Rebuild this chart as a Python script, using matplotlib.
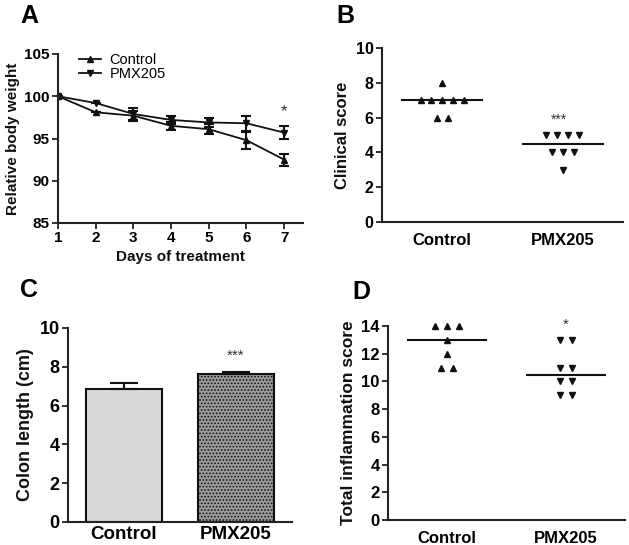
import matplotlib
matplotlib.use("Agg")
import matplotlib.pyplot as plt
from matplotlib.lines import Line2D
import numpy as np

plt.rcParams['font.family'] = ['Liberation Sans', 'DejaVu Sans']
plt.rcParams['hatch.linewidth'] = 0.8

# Panel A
days = [1, 2, 3, 4, 5, 6, 7]
control_weight = [100, 98.1, 97.7, 96.5, 96.1, 94.8, 92.5]
control_err = [0, 0, 0.6, 0.5, 0.6, 1.0, 0.7]
pmx_weight = [100, 99.2, 97.9, 97.2, 96.9, 96.8, 95.7]
pmx_err = [0, 0, 0.7, 0.5, 0.5, 0.9, 0.8]

# Panel B
groups = ['Control', 'PMX205']
clinical_control = [8, 7, 7, 7, 7, 7, 6, 6]
clinical_pmx = [5, 5, 5, 5, 4, 4, 4, 3]
clinical_means = [7.0, 4.5]

# Panel C
colon_length = [6.85, 7.65]
colon_err = [0.3, 0.08]

# Panel D
inflam_control = [14, 14, 14, 13, 12, 11, 11]
inflam_pmx = [13, 13, 11, 11, 10, 10, 9, 9]
inflam_means = [13.0, 10.5]

W, H = 629, 545
fig = plt.figure(figsize=(W / 100, H / 100), dpi=100)

def ax_at(x0, x1, ytop, ybot):
    return fig.add_axes([x0 / W, (H - ybot) / H, (x1 - x0) / W, (ybot - ytop) / H])

def style(ax, ysize=11, xsize=11):
    for s in ['top', 'right']:
        ax.spines[s].set_visible(False)
    for s in ['left', 'bottom']:
        ax.spines[s].set_linewidth(1.5)
        ax.spines[s].set_color('#222222')
    ax.tick_params(width=1.3, length=4, color='#222222', pad=2)
    ax.tick_params(axis='y', labelsize=ysize)
    ax.tick_params(axis='x', labelsize=xsize)
    for lab in ax.get_xticklabels() + ax.get_yticklabels():
        lab.set_fontweight('bold')

INK = '#111111'

# ---- A ----
axA = ax_at(58, 303, 54, 223)
axA.errorbar(days, control_weight, yerr=control_err, color=INK, marker='^', ms=4,
             lw=1.3, capsize=3.5, elinewidth=1.5, capthick=1.5)
axA.errorbar(days, pmx_weight, yerr=pmx_err, color=INK, marker='v', ms=4,
             lw=1.3, capsize=3.5, elinewidth=1.5, capthick=1.5)
axA.set_xlim(1, 7.5)
axA.set_ylim(85, 105)
axA.set_xticks(days)
axA.set_yticks([85, 90, 95, 100, 105])
axA.set_xlabel('Days of treatment', fontsize=11, fontweight='bold', color=INK, labelpad=3)
axA.set_ylabel('Relative body weight', fontsize=11, fontweight='bold', color=INK, labelpad=3)
style(axA)
axA.text(7, 97.3, '*', ha='center', va='bottom', fontsize=12, color='#333333')
handles = [Line2D([], [], color=INK, marker='^', ms=4, lw=1.3),
           Line2D([], [], color=INK, marker='v', ms=4, lw=1.3)]
axA.legend(handles, ['Control', 'PMX205'], loc='upper left', bbox_to_anchor=(0.05, 1.06),
           frameon=False, handlelength=1.5, handletextpad=0.6,
           labelspacing=0.0, borderaxespad=0.2, prop={'size': 10.5})
fig.text(20 / W, 1 - 16 / H, 'A', fontsize=18, fontweight='bold', va='center')

# ---- B ----
def scatter_group(ax, xc, vals, marker, spacing=0.09):
    vals = list(vals)
    uniq = sorted(set(vals), reverse=True)
    for v in uniq:
        n = vals.count(v)
        xs = xc + (np.arange(n) - (n - 1) / 2) * spacing
        ax.plot(xs, [v] * n, linestyle='none', marker=marker, ms=4.5, color=INK,
                clip_on=False)

axB = ax_at(382, 623, 48, 222)
scatter_group(axB, 0, clinical_control, '^')
scatter_group(axB, 1, clinical_pmx, 'v')
for i, m in enumerate(clinical_means):
    axB.plot([i - 0.33, i + 0.33], [m, m], color=INK, lw=1.5)
axB.set_xlim(-0.5, 1.5)
axB.set_ylim(0, 10)
axB.set_xticks([0, 1])
axB.set_xticklabels(groups)
axB.set_yticks([0, 2, 4, 6, 8, 10])
axB.set_ylabel('Clinical score', fontsize=12, fontweight='bold', color=INK)
style(axB, ysize=11.5, xsize=12)
axB.tick_params(axis='x', length=0, pad=8)
axB.text(0.97, 5.45, '***', ha='center', va='bottom', fontsize=10, color='#333333')
fig.text(336 / W, 1 - 16 / H, 'B', fontsize=18, fontweight='bold', va='center')

# ---- C ----
axC = ax_at(68, 292, 328, 522)
bars = axC.bar([0, 1], colon_length, width=0.67, edgecolor=INK, linewidth=1.5,
               color=['#dadada', '#9c9c9c'])
bars[1].set_hatch('.....')
axC.errorbar([0, 1], colon_length, yerr=[[0, 0], colon_err], fmt='none', ecolor=INK,
             elinewidth=1.5, capsize=10, capthick=1.5)
axC.set_xlim(-0.5, 1.5)
axC.set_ylim(0, 10)
axC.set_xticks([0, 1])
axC.set_xticklabels(groups)
axC.set_yticks([0, 2, 4, 6, 8, 10])
axC.set_ylabel('Colon length (cm)', fontsize=13, fontweight='bold', color=INK)
style(axC, ysize=13, xsize=13.5)
axC.tick_params(axis='x', length=0, pad=3)
axC.text(1, 8.2, '***', ha='center', va='bottom', fontsize=11, color='#333333')
fig.text(20 / W, 1 - 290 / H, 'C', fontsize=18, fontweight='bold', va='center')

# ---- D ----
axD = ax_at(388, 625, 326, 520)
scatter_group(axD, 0, inflam_control, '^', spacing=0.1)
scatter_group(axD, 1, inflam_pmx, 'v', spacing=0.1)
for i, m in enumerate(inflam_means):
    axD.plot([i - 0.33, i + 0.33], [m, m], color=INK, lw=1.5)
axD.set_xlim(-0.5, 1.5)
axD.set_ylim(0, 14)
axD.set_xticks([0, 1])
axD.set_xticklabels(groups)
axD.set_yticks(range(0, 15, 2))
axD.set_ylabel('Total inflammation score', fontsize=12.5, fontweight='bold', color=INK)
style(axD, ysize=12, xsize=12)
axD.tick_params(axis='x', length=0, pad=8)
axD.text(1, 13.55, '*', ha='center', va='bottom', fontsize=11, color='#333333')
fig.text(352 / W, 1 - 292 / H, 'D', fontsize=18, fontweight='bold', va='center')

fig.savefig('out.png', dpi=100)
